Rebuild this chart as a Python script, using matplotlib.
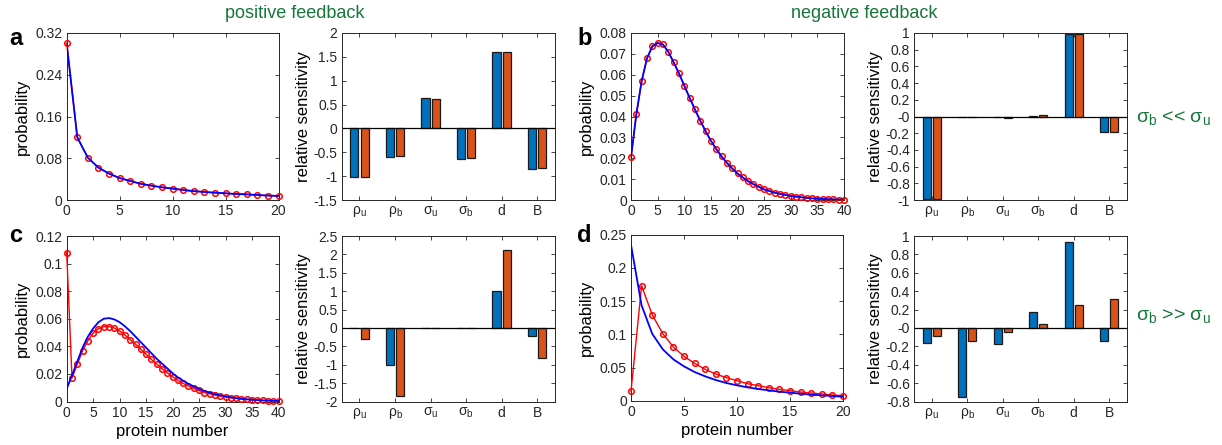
import matplotlib
matplotlib.use("Agg")
import matplotlib.pyplot as plt
import numpy as np

plt.rcParams['font.family'] = ['Liberation Sans', 'DejaVu Sans']
plt.rcParams['mathtext.fontset'] = 'custom'
plt.rcParams['mathtext.rm'] = 'Liberation Sans'
plt.rcParams['mathtext.it'] = 'Liberation Sans:italic'
plt.rcParams['axes.unicode_minus'] = False

#probability distributions (red = exact, blue = approximation)
n_a = np.arange(0, 21)
red_a = [0.300, 0.120, 0.081, 0.062, 0.0506, 0.042, 0.0365, 0.031, 0.0275, 0.0243, 0.0218,
         0.0192, 0.0170, 0.0154, 0.0140, 0.0128, 0.0115, 0.0108, 0.0096, 0.0085, 0.0078]
blue_a = red_a

n_b = np.arange(0, 41)
red_b = [0.0204, 0.041, 0.057, 0.0678, 0.0736, 0.0752, 0.0745, 0.071, 0.066, 0.0607, 0.0548,
         0.049, 0.0434, 0.038, 0.033, 0.0284, 0.0244, 0.0209, 0.0178, 0.0151, 0.0127,
         0.0108, 0.0090, 0.0076, 0.0063, 0.0051, 0.0043, 0.0035, 0.0029, 0.0024, 0.0019,
         0.0016, 0.0013, 0.0010, 0.0008, 0.0006, 0.0005, 0.0004, 0.0003, 0.0002, 0.0002]
blue_b = red_b

n_c = np.arange(0, 41)
red_c = [0.1079, 0.017, 0.0271, 0.0368, 0.0441, 0.0497, 0.0528, 0.0543, 0.0543, 0.0533, 0.0511,
         0.0482, 0.0448, 0.0415, 0.0378, 0.0342, 0.0305, 0.0271, 0.0238, 0.0208, 0.018,
         0.0153, 0.0131, 0.0112, 0.0095, 0.008, 0.0065, 0.0056, 0.0046, 0.0039, 0.0032,
         0.0027, 0.0022, 0.0017, 0.0015, 0.0012, 0.0010, 0.0008, 0.0007, 0.0006, 0.0005]
blue_c = [0.0092, 0.019, 0.029, 0.039, 0.047, 0.053, 0.0575, 0.0600, 0.0605, 0.0595, 0.0575,
          0.0545, 0.051, 0.047, 0.043, 0.039, 0.035, 0.031, 0.0275, 0.024, 0.0205,
          0.0175, 0.015, 0.0128, 0.0108, 0.0091, 0.0077, 0.0065, 0.0054, 0.0045, 0.0037,
          0.0030, 0.0025, 0.0020, 0.0016, 0.0013, 0.0010, 0.0008, 0.0006, 0.0005, 0.0004]

n_d = np.arange(0, 21)
red_d = [0.0145, 0.173, 0.1295, 0.101, 0.081, 0.067, 0.0565, 0.0475, 0.0405, 0.035, 0.0305,
         0.026, 0.023, 0.020, 0.0175, 0.0155, 0.0135, 0.012, 0.0105, 0.009, 0.008]
blue_d = [0.2345, 0.1435, 0.101, 0.0775, 0.0625, 0.052, 0.0435, 0.037, 0.0315, 0.027, 0.0235,
          0.0205, 0.018, 0.016, 0.014, 0.0125, 0.011, 0.0095, 0.0085, 0.0075, 0.0065]

#relative sensitivities
params = [r'ρ$_\mathrm{u}$', r'ρ$_\mathrm{b}$', r'σ$_\mathrm{u}$', r'σ$_\mathrm{b}$', 'd', 'B']
sens_a_blue = [-1.01, -0.60, 0.635, -0.645, 1.61, -0.84]
sens_a_orange = [-1.01, -0.58, 0.61, -0.625, 1.60, -0.82]
sens_b_blue = [-0.99, -0.01, -0.01, 0.01, 0.99, -0.19]
sens_b_orange = [-0.99, -0.01, -0.015, 0.015, 0.99, -0.19]
sens_c_blue = [-0.005, -1.02, 0.01, 0.005, 1.00, -0.21]
sens_c_orange = [-0.30, -1.85, 0.01, 0.005, 2.13, -0.81]
sens_d_blue = [-0.167, -0.75, -0.17, 0.177, 0.93, -0.145]
sens_d_orange = [-0.09, -0.14, -0.045, 0.048, 0.25, 0.31]

W, H = 1222, 445
fig = plt.figure(figsize=(W / 100, H / 100), dpi=100)

def rect(l, t, r, b):
    return [l / W, 1 - b / H, (r - l) / W, (b - t) / H]

axcol = '#262626'

def style(ax):
    ax.tick_params(direction='in', top=True, right=True, labelsize=10,
                   colors=axcol, length=3, width=0.6, pad=3)
    for s in ax.spines.values():
        s.set_color(axcol)
        s.set_linewidth(0.7)

def prob_panel(pos, n, red, blue, xt, yt, ylim, xlab):
    ax = fig.add_axes(pos)
    ax.plot(n, red, '-o', color='red', lw=1.0, ms=4, mfc='none', mew=1.1, clip_on=False, zorder=3)
    ax.plot(n, blue, '-', color='blue', lw=1.3, zorder=4)
    ax.set_xlim(xt[0], xt[-1])
    ax.set_ylim(*ylim)
    ax.set_xticks(xt)
    ax.set_yticks(yt)
    ax.set_yticklabels(['%g' % v for v in yt])
    ax.set_ylabel('probability', fontsize=12, labelpad=4)
    if xlab:
        ax.set_xlabel('protein number', fontsize=12, labelpad=3)
    style(ax)
    return ax

def bar_panel(pos, sb, so, yt):
    ax = fig.add_axes(pos)
    x = np.arange(1, 7)
    ax.bar(x - 0.145, sb, 0.23, color='#0072BD', edgecolor='#1a1a1a', lw=0.9)
    ax.bar(x + 0.145, so, 0.23, color='#D95319', edgecolor='#1a1a1a', lw=0.9)
    ax.axhline(0, color='black', lw=0.9)
    ax.set_xlim(0.5, 6.5)
    ax.set_ylim(yt[0], yt[-1])
    ax.set_xticks(x)
    ax.set_xticklabels(params, fontsize=11)
    ax.set_yticks(yt)
    ax.set_yticklabels(['%g' % round(v, 2) for v in yt])
    ax.set_ylabel('relative sensitivity', fontsize=12, labelpad=2)
    style(ax)
    return ax

prob_panel(rect(66.7, 33, 278.5, 200), n_a, red_a, blue_a,
           np.arange(0, 21, 5), np.arange(0, 0.33, 0.08), (0, 0.32), False)
bar_panel(rect(341.7, 33, 555, 200), sens_a_blue, sens_a_orange, np.arange(-1.5, 2.01, 0.5))
prob_panel(rect(631, 33, 844, 200), n_b, red_b, blue_b,
           np.arange(0, 41, 5), np.arange(0, 0.081, 0.01), (0, 0.08), False)
bar_panel(rect(914, 33, 1127, 200), sens_b_blue, sens_b_orange, np.arange(-1, 1.01, 0.2))

prob_panel(rect(66.7, 236, 278.5, 401.5), n_c, red_c, blue_c,
           np.arange(0, 41, 5), np.arange(0, 0.121, 0.02), (0, 0.12), True)
bar_panel(rect(341.7, 236, 555, 401.5), sens_c_blue, sens_c_orange, np.arange(-2, 2.51, 0.5))
prob_panel(rect(631, 234.5, 843, 401), n_d, red_d, blue_d,
           np.arange(0, 21, 5), np.arange(0, 0.251, 0.05), (0, 0.25), True)
bar_panel(rect(914, 236, 1127, 401.5), sens_d_blue, sens_d_orange, np.arange(-0.8, 1.01, 0.2))

green = '#17763a'
fig.text(295 / W, 1 - 14 / H, 'positive feedback', color=green, fontsize=13, ha='center', va='center')
fig.text(864 / W, 1 - 14 / H, 'negative feedback', color=green, fontsize=13, ha='center', va='center')
fig.text(1136 / W, 1 - 118 / H, r'σ$_\mathrm{b}$ << σ$_\mathrm{u}$', color=green, fontsize=14, ha='left', va='center')
fig.text(1136 / W, 1 - 316 / H, r'σ$_\mathrm{b}$ >> σ$_\mathrm{u}$', color=green, fontsize=14, ha='left', va='center')

for lab, xp, yp in [('a', 9, 45), ('b', 577, 45), ('c', 9, 242), ('d', 577, 242)]:
    fig.text(xp / W, 1 - yp / H, lab, fontsize=17, fontweight='bold', ha='left', va='baseline')

fig.savefig('out.png', dpi=100)
